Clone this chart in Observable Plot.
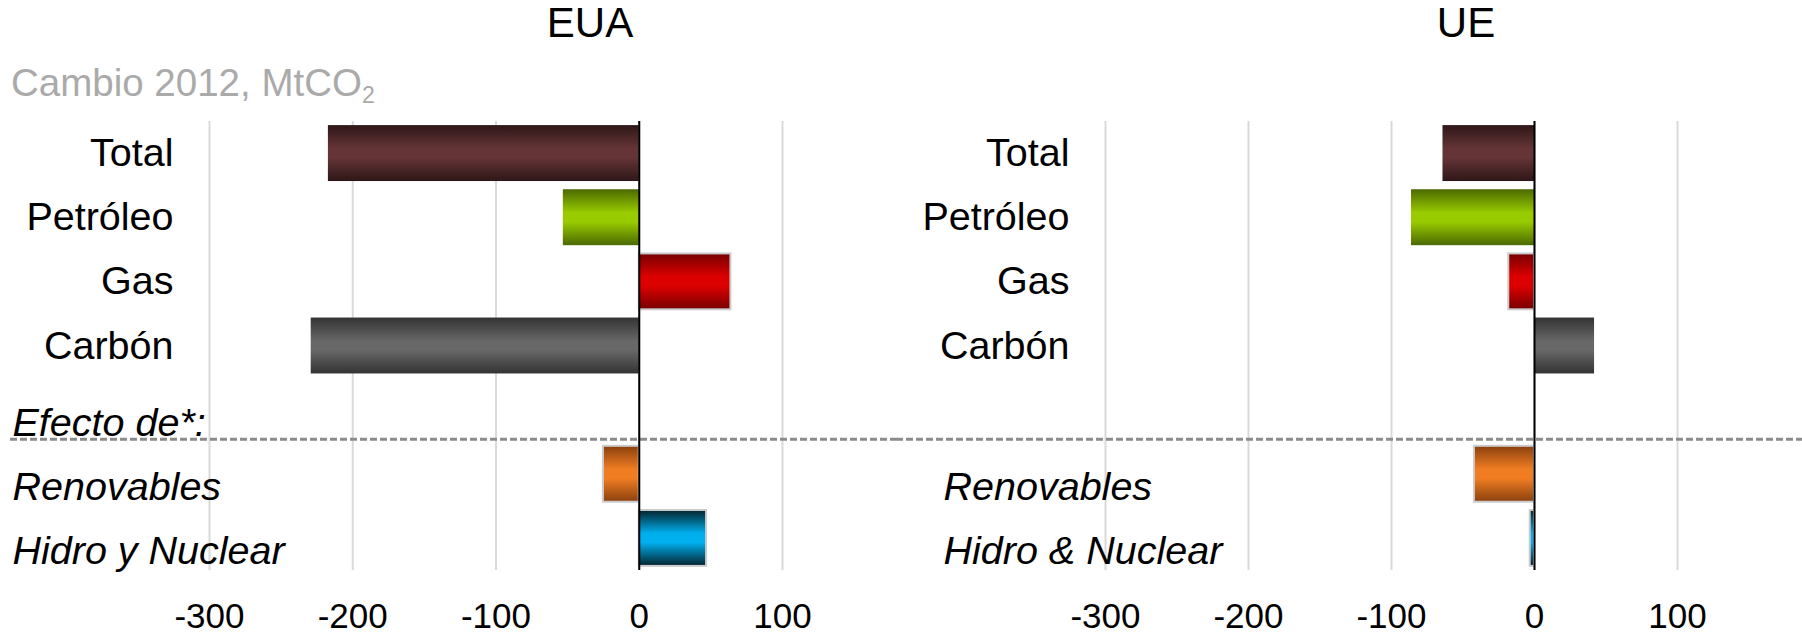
<!DOCTYPE html>
<html>
<head>
<meta charset="utf-8">
<script src="https://cdn.jsdelivr.net/npm/d3@7"></script>
<script src="https://cdn.jsdelivr.net/npm/@observablehq/plot@0.6"></script>
<style>
  body { margin: 0; background: #fff; font-family: "Liberation Sans", Arial, sans-serif; }
  #wrap { position: relative; width: 1802px; height: 634px; overflow: hidden; background: #fff; }
  .panel { position: absolute; top: 0; }
  .title { position: absolute; top: 2px; font-size: 42px; line-height: 1; color: #000; transform: translateX(-50%); white-space: nowrap; }
  .unit { position: absolute; left: 11px; top: 64px; font-size: 38.5px; line-height: 1; color: #aaaaaa; white-space: nowrap; }
  .unit sub { font-size: 0.6em; vertical-align: -0.3em; line-height: 0; }
</style>
</head>
<body>
<div id="wrap"></div>
<script>
// ---- data ----
const keys = ["total", "petroleo", "gas", "carbon", "efecto", "renovables", "hidro"];
const labelsEUA = ["Total", "Petróleo", "Gas", "Carbón", "Efecto de*:", "Renovables", "Hidro y Nuclear"];
const labelsUE  = ["Total", "Petróleo", "Gas", "Carbón", "", "Renovables", "Hidro & Nuclear"];
const valuesEUA = [-217, -53, 64, -229, null, -25, 47];
const valuesUE  = [-64, -86, -18, 42, null, -42, -3];
const italicKeys = ["efecto", "renovables", "hidro"];
const xTicks = [-300, -200, -100, 0, 100];
const panelTitles = ["EUA", "UE"];
const unitLabel = "Cambio 2012, MtCO";
const unitSub = "2";

// ---- styles ----
const FONT = '"Liberation Sans", Arial, sans-serif';
const barColors = {
  total:      ["#2e1718", "#653437"],
  petroleo:   ["#4b6900", "#99cc00"],
  gas:        ["#760000", "#dd0000"],
  carbon:     ["#333333", "#686868"],
  renovables: ["#8a400e", "#f07d22"],
  hidro:      ["#04222c", "#00b0ee"]
};
const borderedKeys = ["gas", "renovables", "hidro"];

const H = 634, MT = 121, MB = 64, ML = 209;
const panels = [
  {id: "eua", title: panelTitles[0], labels: labelsEUA, values: valuesEUA, left: 0, width: 896, marginRight: 114, titleX: 590, italicX: 12, dashStart: 10},
  {id: "ue", title: panelTitles[1], labels: labelsUE, values: valuesUE, left: 896, width: 906, marginRight: 125, titleX: 570, italicX: 47, dashStart: 0}
];

const wrap = document.getElementById("wrap");

panels.forEach(p => {
  const rows = keys.map((k, i) => ({key: k, label: p.labels[i], value: p.values[i]}));
  const chart = Plot.plot({
    width: p.width,
    height: H,
    marginLeft: ML,
    marginRight: p.marginRight,
    marginTop: MT,
    marginBottom: MB,
    style: {fontFamily: FONT, fontSize: "35px", color: "#000", background: "transparent"},
    x: {domain: [-300, 100], ticks: xTicks, tickSize: 0, tickPadding: 33, tickFormat: d => String(d), label: null},
    y: {domain: keys, paddingInner: 0.128, paddingOuter: 0.064, axis: null, round: false},
    color: {type: "identity"},
    marks: [
      Plot.ruleX(xTicks, {stroke: "#d9d9d9", strokeWidth: 2}),
      Plot.ruleY(["efecto"], {y: d => d, stroke: "#8c8c8c", strokeWidth: 3, strokeDasharray: "7,3", dy: 29,
        insetLeft: -(ML - p.dashStart), insetRight: -p.marginRight}),
      Plot.barX(rows.filter(d => d.value != null), {
        x: "value", y: "key",
        fill: d => `url(#${p.id}-${d.key})`,
        stroke: d => borderedKeys.includes(d.key) ? "#cccccc" : "none",
        strokeWidth: 2
      }),
      Plot.ruleX([0], {stroke: "#000", strokeWidth: 2}),
      Plot.text(rows.filter(d => !italicKeys.includes(d.key)), {
        y: "key", text: "label", frameAnchor: "left", textAnchor: "end", dx: -36, fontSize: 39.5, fill: "#000"
      }),
      Plot.text(rows.filter(d => italicKeys.includes(d.key)), {
        y: "key", text: "label", frameAnchor: "left", textAnchor: "start", dx: p.italicX - ML, dy: 13,
        fontSize: 39.5, fontStyle: "italic", fill: "#000"
      })
    ]
  });
  const svgNode = chart.tagName.toLowerCase() === "svg" ? chart : chart.querySelector("svg");
  const defs = d3.select(svgNode).insert("defs", ":first-child");
  Object.entries(barColors).forEach(([k, [dark, light]]) => {
    const g = defs.append("linearGradient").attr("id", `${p.id}-${k}`)
      .attr("x1", 0).attr("y1", 0).attr("x2", 0).attr("y2", 1);
    [[0, dark], [0.42, light], [0.58, light], [1, dark]].forEach(([o, c]) =>
      g.append("stop").attr("offset", o).attr("stop-color", c));
  });
  const holder = document.createElement("div");
  holder.className = "panel";
  holder.style.left = p.left + "px";
  holder.appendChild(chart);
  wrap.appendChild(holder);
});

panels.forEach(p => {
  const t = document.createElement("div");
  t.className = "title";
  t.style.left = (p.left + p.titleX) + "px";
  t.textContent = p.title;
  wrap.appendChild(t);
});
const u = document.createElement("div");
u.className = "unit";
u.appendChild(document.createTextNode(unitLabel));
const sub = document.createElement("sub");
sub.textContent = unitSub;
u.appendChild(sub);
wrap.appendChild(u);
</script>
</body>
</html>
